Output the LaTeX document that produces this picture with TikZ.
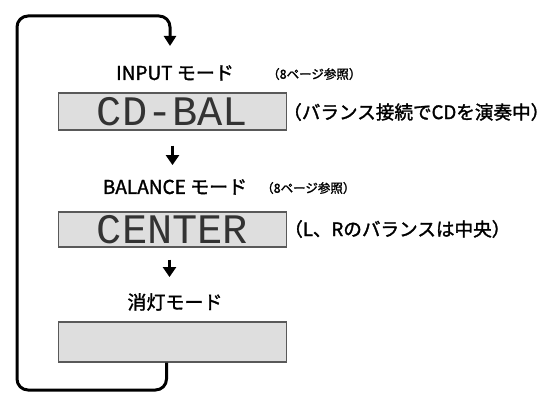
\documentclass[tikz,border=0pt]{standalone}
\usepackage{fontspec}
\setmainfont{Liberation Sans}
\newfontfamily\jp{Noto Sans CJK JP}[FakeBold=1.6]
\newfontfamily\lcd{Liberation Mono}
\usetikzlibrary{arrows.meta}
\begin{document}
\begin{tikzpicture}[x=1pt,y=1pt,
  lcdbox/.style={draw=black!65,line width=1.3pt,fill=black!13,minimum width=228pt,inner sep=0pt,
    font=\lcd\fontsize{42}{42}\selectfont,text=black!80},
  modelabel/.style={font=\jp\fontsize{19}{19}\selectfont,inner sep=0pt},
  reflabel/.style={font=\jp\fontsize{12.5}{12.5}\selectfont,inner sep=0pt,anchor=west},
  note/.style={font=\jp\fontsize{18.6}{18.6}\selectfont,inner sep=0pt,anchor=west},
  downarr/.style={line width=3.2pt,-{Triangle[width=13pt,length=10pt]}},
  looparr/.style={line width=3pt,rounded corners=11pt,-{Triangle[width=12pt,length=10pt]}}]
\useasboundingbox (0,0) rectangle (551,-396);

\node[modelabel] (l1) at (175,-73) {INPUT モード};
\node[reflabel] (r1) at (267,-74) {（8ページ参照）};
\node[lcdbox,minimum height=37pt] (b1) at (172.5,-111.5) {CD-BAL};
\node[note] (n1) at (283,-112) {（バランス接続でCDを演奏中）\kern-0.55em};

\node[modelabel] (l2) at (175,-187) {BALANCE モード};
\node[reflabel] (r2) at (261,-188) {（8ページ参照）};
\node[lcdbox,minimum height=35pt] (b2) at (172.5,-229.5) {CENTER};
\node[note] (n2) at (284,-229) {（L、Rのバランスは中央）\kern-0.55em};

\node[modelabel] (l3) at (175,-302) {消灯モード};
\node[lcdbox,minimum height=40pt] (b3) at (172.5,-342) {};

\coordinate (tip) at (170,-46);
\coordinate (lb) at (17,-390);
\coordinate (lt) at (17,-16);

\draw[downarr,shorten <=15pt,shorten >=14pt] (b1.south) -- (b1.south |- l2.north);
\draw[downarr,shorten <=12pt,shorten >=16pt] ([xshift=-3pt]b2.south) -- ([xshift=-3pt]b2.south |- l3.north);
\draw[looparr] ([xshift=-6pt]b3.south) -- ([xshift=-6pt]b3.south |- lb) -- (lb) -- (lt) -- (tip |- lt) -- (tip);
\end{tikzpicture}
\end{document}
